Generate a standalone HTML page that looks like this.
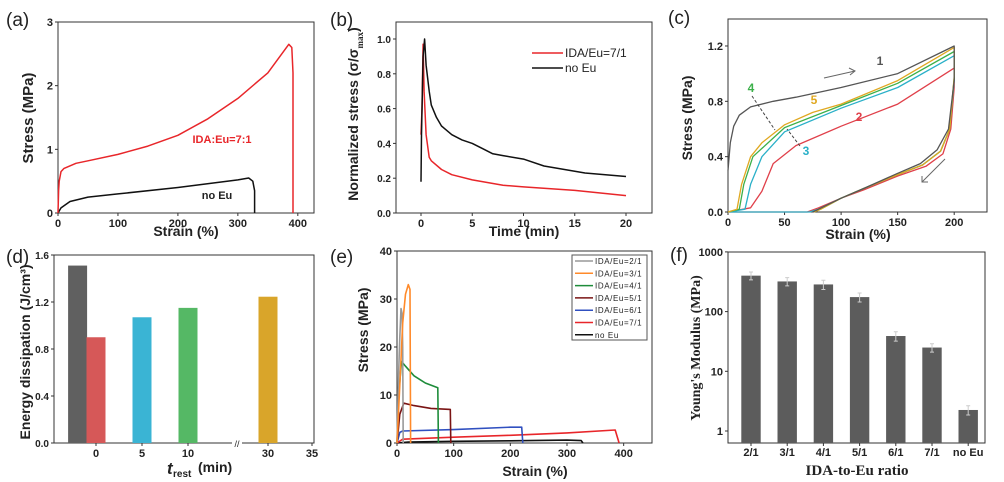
<!DOCTYPE html>
<html><head><meta charset="utf-8"><style>
body{margin:0;background:#fff;width:1004px;height:482px;overflow:hidden}
svg{display:block}
</style></head><body>
<svg id="fig" width="1004" height="482" xmlns="http://www.w3.org/2000/svg"></svg>
<script>
// ---- data: panel (a)
const aRedStrain=[0,1,2,5,10,30,50,100,150,200,250,300,350,385,390,392,392];
const aRedStress=[0,0.35,0.5,0.65,0.7,0.78,0.82,0.92,1.05,1.22,1.48,1.8,2.2,2.65,2.6,2.2,0];
const aBlkStrain=[0,5,20,50,100,200,300,318,325,328,328];
const aBlkStress=[0,0.08,0.18,0.25,0.3,0.4,0.52,0.55,0.5,0.35,0];
// panel (b)
const bBlkTime=[0,0.05,0.2,0.35,0.5,0.8,1,1.5,2,3,4,5,6,7,8,10,12,14,16,18,20];
const bBlkVal=[0.18,0.45,0.9,1.0,0.85,0.7,0.62,0.55,0.5,0.45,0.42,0.4,0.37,0.34,0.33,0.31,0.27,0.25,0.23,0.22,0.21];
const bRedTime=[0,0.1,0.2,0.3,0.5,0.8,1,2,3,5,8,10,15,20];
const bRedVal=[0.45,0.6,0.97,0.7,0.45,0.32,0.3,0.25,0.22,0.19,0.16,0.15,0.13,0.1];
// panel (c) loops: strain, stress
const c1x=[0,2,5,10,20,40,60,100,150,200,200,195,185,170,150,120,100,80,75];
const c1y=[0.3,0.5,0.62,0.7,0.76,0.8,0.83,0.9,1.0,1.2,0.95,0.6,0.45,0.35,0.28,0.17,0.1,0.02,0];
const c2x=[0,20,30,40,60,100,150,200,200,197,190,175,150,120,100,80,70,0];
const c2y=[0,0.03,0.15,0.35,0.48,0.62,0.78,1.04,0.9,0.6,0.42,0.33,0.26,0.16,0.1,0.03,0,0];
const c3x=[0,15,20,30,50,100,150,200,200,196,188,172,150,120,100,80,72,0];
const c3y=[0,0.02,0.2,0.4,0.58,0.75,0.9,1.13,0.95,0.6,0.44,0.34,0.27,0.17,0.1,0.02,0,0];
const c4x=[0,10,14,22,50,100,150,200,200,196,188,172,150,120,100,82,76];
const c4y=[0,0.02,0.2,0.4,0.61,0.77,0.93,1.16,0.97,0.6,0.44,0.34,0.27,0.17,0.1,0.02,0];
const c5x=[0,8,12,20,30,50,75,100,150,200,200,196,188,172,150,120,100,82,76];
const c5y=[0,0.02,0.2,0.4,0.5,0.63,0.72,0.78,0.95,1.19,0.98,0.6,0.44,0.34,0.27,0.17,0.1,0.02,0];
// panel (d)
const dTimes=[-2,0,5,10,30];
const dEnergy=[1.51,0.9,1.07,1.15,1.245];
// panel (e)
const eNames=["IDA/Eu=2/1","IDA/Eu=3/1","IDA/Eu=4/1","IDA/Eu=5/1","IDA/Eu=6/1","IDA/Eu=7/1","no Eu"];
const e1x=[0,3,5,7,9,10,11],e1y=[0,15,22,28,27,20,0];
const e2x=[0,5,10,15,20,23,24],e2y=[0,12,25,31,33,32,0];
const e3x=[0,3,8,15,30,50,72,73],e3y=[0,10,17,16,14,12.5,11.5,0];
const e4x=[0,5,12,30,60,94,95],e4y=[0,6,8.3,7.8,7.2,7,0];
const e5x=[0,5,10,100,200,220,222],e5y=[0,2.2,2.5,2.8,3.3,3.3,0];
const e6x=[0,10,100,200,300,385,392],e6y=[0,0.8,1.2,1.6,2.1,2.7,0];
const e7x=[0,20,100,200,300,325,328],e7y=[0,0.2,0.35,0.45,0.6,0.5,0];
// panel (f)
const fCats=["2/1","3/1","4/1","5/1","6/1","7/1","no Eu"];
const fModulus=[400,320,285,175,39,25,2.25];
const fErr=[60,50,50,30,7,4,0.4];

const S=document.getElementById('fig');const NS="http://www.w3.org/2000/svg";
function el(t,a,txt,parent){const e=document.createElementNS(NS,t);for(const k in a)e.setAttribute(k,a[k]);if(txt!==undefined)e.textContent=txt;(parent||S).appendChild(e);return e;}
function lin(d0,d1,r0,r1){return v=>r0+(v-d0)*(r1-r0)/(d1-d0);}
function box(x0,y0,x1,y1,name){const r=el('rect',{x:x0,y:y0,width:x1-x0,height:y1-y0,fill:'none',stroke:'#333','stroke-width':1});}
function line(xs,ys,X,Y,col,name,w){let d='';xs.forEach((v,i)=>{d+=(i?'L':'M')+X(v).toFixed(1)+','+Y(ys[i]).toFixed(1);});const p=el('path',{d:d,fill:'none',stroke:col,'stroke-width':w||1.5,'stroke-linejoin':'round'});}
function txt(x,y,s,opt,name){const o=Object.assign({x:x,y:y,'font-size':11,'font-weight':'bold',fill:'#222','text-anchor':'middle','font-family':'Liberation Sans, sans-serif'},opt||{});const t=el('text',o,s);return t;}
function xticks(vals,X,yb,lab,fs,font){vals.forEach(v=>{const x=X(v);el('line',{x1:x,y1:yb,x2:x,y2:yb+3,stroke:'#333'});txt(x,yb+14,lab?lab(v):String(v),{'font-size':fs||11,'font-family':font||'Liberation Sans, sans-serif'},'x-tick-label');});}
function yticks(vals,Y,xl,lab,fs,font){vals.forEach(v=>{const y=Y(v);el('line',{x1:xl-3,y1:y,x2:xl,y2:y,stroke:'#333'});txt(xl-5,y+4,lab?lab(v):String(v),{'text-anchor':'end','font-size':fs||11,'font-family':font||'Liberation Sans, sans-serif'},'y-tick-label');});}
function ylabel(x,y,s,name,fs,font){return txt(x,y,s,{'font-size':fs||14,transform:`rotate(-90 ${x} ${y})`,'font-family':font||'Liberation Sans, sans-serif'},name);}
function plabel(x,y,s){txt(x,y,s,{'font-size':19,'font-weight':'normal','text-anchor':'start'},'panel-label');}

// ---- (a)
{const X=lin(0,427,58,314),Y=lin(0,3,213,22);box(58,22,314,213,'plot-area-a');
xticks([0,100,200,300,400],X,213);yticks([0,1,2,3],Y,58);
line(aBlkStrain,aBlkStress,X,Y,'#111','series-no-eu');line(aRedStrain,aRedStress,X,Y,'#e8262a','series-ida-eu-7-1');
txt(222,143,'IDA:Eu=7:1',{fill:'#e8262a','font-size':11},'label-ida-eu');txt(217,199,'no Eu',{'font-size':11},'label-no-eu');
txt(186,236,'Strain (%)',{'font-size':14},'x-axis-title-a');ylabel(33,118,'Stress (MPa)','y-axis-title-a',15);plabel(6,26,'(a)');}
// ---- (b)
{const X=lin(0,20,421,626),Y=lin(0,1,213,39);box(396,22,652,213,'plot-area-b');
xticks([0,5,10,15,20],X,213);yticks([0,0.2,0.4,0.6,0.8,1.0],Y,396,v=>v.toFixed(1),10);
line(bRedTime,bRedVal,X,Y,'#e8262a','series-ida-eu-7-1');line(bBlkTime,bBlkVal,X,Y,'#111','series-no-eu');
el('line',{x1:532,y1:53,x2:563,y2:53,stroke:'#e8262a','stroke-width':1.5});txt(565,57,'IDA/Eu=7/1',{'text-anchor':'start','font-weight':'normal','font-size':12},'legend-entry');
el('line',{x1:532,y1:68,x2:563,y2:68,stroke:'#111','stroke-width':1.5});txt(565,72,'no Eu',{'text-anchor':'start','font-weight':'normal','font-size':12},'legend-entry');
txt(524,236,'Time (min)',{'font-size':14},'x-axis-title-b');
const t=ylabel(358,114,'Normalized stress (σ/σ','y-axis-title-b',14);
el('tspan',{'font-size':9,'baseline-shift':'sub','font-family':'Liberation Serif, serif'},'max',t);
el('tspan',{},')',t);
plabel(330,26,'(b)');}
// ---- (c)
{const X=lin(0,229,728,987),Y=lin(0,1.395,212,19);box(728,19,987,212,'plot-area-c');
xticks([0,50,100,150,200],X,212);yticks([0,0.4,0.8,1.2],Y,728,v=>v.toFixed(1));
line(c2x,c2y,X,Y,'#e0404a','cycle-2',1.3);line(c3x,c3y,X,Y,'#2ab0c8','cycle-3',1.3);line(c4x,c4y,X,Y,'#3cb04a','cycle-4',1.3);line(c5x,c5y,X,Y,'#e0a820','cycle-5',1.3);line(c1x,c1y,X,Y,'#555','cycle-1',1.3);
[['1',880,65,'#555'],['2',859,121,'#e0404a'],['3',806,155,'#2ab0c8'],['4',751,92,'#3cb04a'],['5',814,104,'#e0a820']].forEach(a=>txt(a[1],a[2],a[0],{fill:a[3],'font-size':12},'cycle-label'));
el('line',{x1:824,y1:78,x2:855,y2:71,stroke:'#666'});el('path',{d:'M849,68 L855,71 L850,75',fill:'none',stroke:'#666'});
el('line',{x1:945,y1:159,x2:922,y2:182,stroke:'#666'});el('path',{d:'M922,176 L922,182 L928,182',fill:'none',stroke:'#666'});
el('line',{x1:752,y1:96,x2:775,y2:130,stroke:'#444','stroke-dasharray':'3,2'});el('line',{x1:800,y1:146,x2:787,y2:129,stroke:'#444','stroke-dasharray':'3,2'});
txt(858,239,'Strain (%)',{'font-size':14},'x-axis-title-c');ylabel(692,118,'Stress (MPa)','y-axis-title-c',14);plabel(668,24,'(c)');}
// ---- (d)
{const X=v=>v<=20?96+9.2*v:268+8.8*(v-30),Y=lin(0,1.6,443,255);box(54,255,314,443,'plot-area-d');
const cols=['#606060','#d65858','#3ab4d4','#55b865','#d9a52a'];
dTimes.forEach((t,i)=>{const r=el('rect',{x:X(t)-9.5,y:Y(dEnergy[i]),width:19,height:443-Y(dEnergy[i]),fill:cols[i]});});
xticks([0,5,10,30,35],X,443);yticks([0,0.4,0.8,1.2,1.6],Y,54,v=>v.toFixed(1),10);
el('rect',{x:232,y:438,width:10,height:10,fill:'#fff'});txt(237,447,'//',{'font-size':9,'font-weight':'normal'},'axis-break');
txt(167,474,'t',{'font-size':17,'font-style':'italic','text-anchor':'start'},'x-axis-title-d');txt(173,477,'rest',{'font-size':10,'text-anchor':'start'},'x-axis-title-sub');txt(198,472,'(min)',{'font-size':14,'text-anchor':'start'},'x-axis-title-unit');
ylabel(30,352,'Energy dissipation (J/cm³)','y-axis-title-d',14);plabel(6,263,'(d)');}
// ---- (e)
{const X=lin(0,450,397,652),Y=lin(0,40,443,251);box(397,251,652,443,'plot-area-e');
xticks([0,100,200,300,400],X,443);yticks([0,10,20,30,40],Y,397);
const cols=['#999','#ff8a2a','#1e8c3a','#7a1414','#3050c0','#e8262a','#111'];
const xs=[e1x,e2x,e3x,e4x,e5x,e6x,e7x],ys=[e1y,e2y,e3y,e4y,e5y,e6y,e7y];
[6,5,4,3,2,0,1].forEach(i=>line(xs[i],ys[i],X,Y,cols[i],'series-'+i,1.6));
const lb=el('rect',{x:572,y:255,width:75,height:85,fill:'#fff',stroke:'#555'});
eNames.forEach((n,i)=>{const y=261+i*12.3;el('line',{x1:575,y1:y,x2:593,y2:y,stroke:cols[i],'stroke-width':1.5});txt(595,y+3,n,{'text-anchor':'start','font-weight':'normal','font-size':8,'letter-spacing':'0.6'},'legend-entry');});
txt(535,476,'Strain (%)',{'font-size':14},'x-axis-title-e');ylabel(368,330,'Stress (MPa)','y-axis-title-e',14);plabel(330,263,'(e)');}
// ---- (f)
{const Y=v=>431-59.7*Math.log10(v),X=i=>751+36.2*i;box(728,252,985,443,'plot-area-f');
fCats.forEach((c,i)=>{const y=Y(fModulus[i]);const r=el('rect',{x:X(i)-9.7,y:y,width:19.4,height:443-y,fill:'#5c5c5c'});
const y1=Y(fModulus[i]+fErr[i]),y2=Y(fModulus[i]-fErr[i]);el('path',{d:`M${X(i)},${y1}V${y2}M${X(i)-2},${y1}h4M${X(i)-2},${y2}h4`,stroke:'#ccc',fill:'none'});
el('line',{x1:X(i),y1:443,x2:X(i),y2:446,stroke:'#333'});txt(X(i),456,c,{'font-size':11},'x-tick-label');});
yticks([1,10,100,1000],Y,728,null,11);
txt(857,475,'IDA-to-Eu ratio',{'font-size':15,'font-family':'Liberation Serif, serif'},'x-axis-title-f');ylabel(700,348,"Young's Modulus (MPa)",'y-axis-title-f',14,'Liberation Serif, serif');plabel(670,261,'(f)');}
</script>
</body></html>
